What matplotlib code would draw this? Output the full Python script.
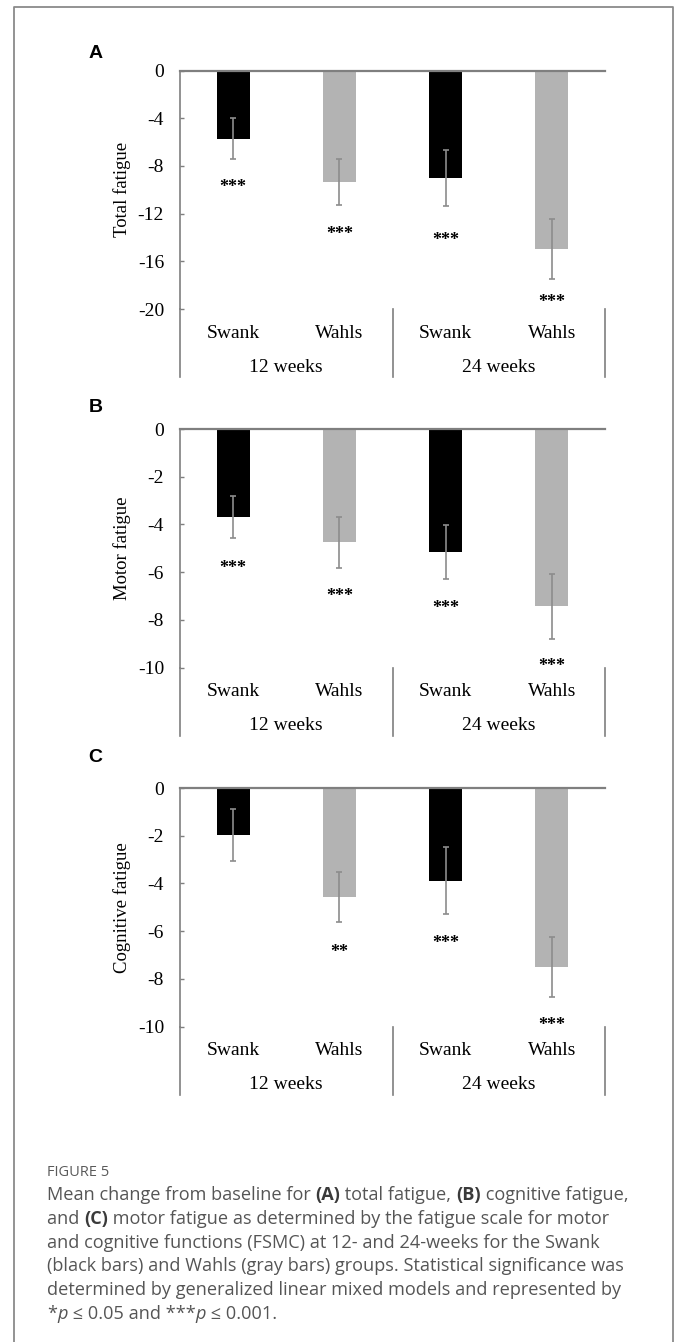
import matplotlib
matplotlib.use("Agg")
import matplotlib.pyplot as plt
import matplotlib.transforms as mtransforms
from matplotlib.lines import Line2D

plt.rcParams["axes.unicode_minus"] = False

W, H, DPI = 681, 1342, 100

# ---------------- data ----------------
categories = ["Swank", "Wahls", "Swank", "Wahls"]
groups = ["12 weeks", "24 weeks"]
panel_letters = ["A", "B", "C"]
ylabels = ["Total fatigue", "Motor fatigue", "Cognitive fatigue"]
bar_colors = ["#000000", "#b3b3b3", "#000000", "#b3b3b3"]

total_mean = [-5.72, -9.37, -9.03, -14.96]
total_err = [1.70, 1.93, 2.34, 2.51]
total_sig = ["***", "***", "***", "***"]
total_sig_y = [-9.45, -13.4, -13.9, -19.1]
total_ticks = [0, -4, -8, -12, -16, -20]

motor_mean = [-3.68, -4.75, -5.16, -7.44]
motor_err = [0.89, 1.08, 1.12, 1.35]
motor_sig = ["***", "***", "***", "***"]
motor_sig_y = [-5.69, -6.85, -7.36, -9.80]
motor_ticks = [0, -2, -4, -6, -8, -10]

cog_mean = [-1.98, -4.58, -3.88, -7.50]
cog_err = [1.08, 1.04, 1.39, 1.27]
cog_sig = ["", "**", "***", "***"]
cog_sig_y = [0, -6.75, -6.38, -9.79]
cog_ticks = [0, -2, -4, -6, -8, -10]

panels = [
    (total_mean, total_err, total_sig, total_sig_y, total_ticks),
    (motor_mean, motor_err, motor_sig, motor_sig_y, motor_ticks),
    (cog_mean, cog_err, cog_sig, cog_sig_y, cog_ticks),
]

caption_title = "FIGURE 5"
caption_lines = [
    [("Mean change from baseline for ", "n"), ("(A)", "b"), (" total fatigue, ", "n"),
     ("(B)", "b"), (" cognitive fatigue,", "n")],
    [("and ", "n"), ("(C)", "b"), (" motor fatigue as determined by the fatigue scale for motor", "n")],
    [("and cognitive functions (FSMC) at 12- and 24-weeks for the Swank", "n")],
    [("(black bars) and Wahls (gray bars) groups. Statistical significance was", "n")],
    [("determined by generalized linear mixed models and represented by", "n")],
    [("*", "n"), ("p", "i"), (" \u2264 0.05 and ***", "n"), ("p", "i"), (" \u2264 0.001.", "n")],
]

# ---------------- layout ----------------
SERIF = ["Liberation Serif", "DejaVu Serif"]
SANS = ["Open Sans", "DejaVu Sans"]
AX_L, AX_R = 180, 605
tops = [70.5, 429, 788]
AX_H = 238.5
letter_y = [54, 407, 757]
GRAY = "#7f7f7f"

fig = plt.figure(figsize=(W / DPI, H / DPI), dpi=DPI)

for p, (mean, err, sig, sig_y, ticks) in enumerate(panels):
    top = tops[p]
    ax = fig.add_axes([AX_L / W, 1 - (top + AX_H) / H, (AX_R - AX_L) / W, AX_H / H])
    x = list(range(len(categories)))
    ax.bar(x, mean, width=0.31, color=bar_colors, zorder=2)
    ax.errorbar(x, mean, yerr=err, fmt="none", ecolor="#8c8c8c", elinewidth=1.2,
                capsize=2.5, capthick=1.2, zorder=3)
    ax.set_xlim(-0.5, 3.5)
    ax.set_ylim(min(ticks), 0)
    for s in ["right", "bottom"]:
        ax.spines[s].set_visible(False)
    ax.spines["top"].set_color(GRAY)
    ax.spines["top"].set_linewidth(1.6)
    ax.spines["left"].set_color(GRAY)
    ax.spines["left"].set_linewidth(1.2)
    ax.set_xticks([])
    ax.set_yticks(ticks)
    ax.set_yticklabels([str(t) for t in ticks], family=SERIF, fontsize=14)
    ax.tick_params(axis="y", direction="in", length=3, width=1, color=GRAY, pad=11.5)

    ext = 68 / AX_H
    trans = mtransforms.blended_transform_factory(ax.transData, ax.transAxes)
    for sx in [-0.5, 1.5, 3.5]:
        ax.add_line(Line2D([sx, sx], [0, -ext], transform=trans, color=GRAY, lw=1.2,
                           clip_on=False))
    for i, c in enumerate(categories):
        ax.text(i, -24 / AX_H, c, transform=trans, ha="center", va="center",
                family=SERIF, fontsize=14)
    for g, gl in enumerate(groups):
        ax.text(2 * g + 0.5, -58 / AX_H, gl, transform=trans, ha="center", va="center",
                family=SERIF, fontsize=14)
    for i, s in enumerate(sig):
        if s:
            ax.annotate(s, (i, sig_y[i]), xytext=(0, -6), textcoords="offset points",
                        ha="center", va="baseline", family=SERIF, fontsize=13,
                        fontweight="bold")
    ax.text(-(AX_L - 122) / (AX_R - AX_L), 0.5, ylabels[p], transform=ax.transAxes,
            rotation=90, ha="center", va="center", family=SERIF, fontsize=13.5)
    fig.text(95.7 / W, 1 - letter_y[p] / H, panel_letters[p], ha="center", va="center",
             family=["Liberation Sans", "DejaVu Sans"], fontsize=14, fontweight="bold")

# frame
fig.add_artist(Line2D([14 / W, 14 / W, 673 / W, 673 / W], [0, 1 - 7 / H, 1 - 7 / H, 0],
                      transform=fig.transFigure, color="#8a8a8a", lw=1.3))

# ---------------- caption ----------------
renderer = fig.canvas.get_renderer()
CAP_COLOR = "#555555"


def seg_kw(style, size):
    kw = dict(fontsize=size, color=CAP_COLOR, family=SANS)
    if style == "b":
        kw["fontweight"] = "bold"
        kw["color"] = "#3a3a3a"
    if style == "i":
        kw["fontstyle"] = "italic"
    return kw


def draw_line(segs, x_px, base_px, size):
    x = x_px
    for txt, style in segs:
        t = fig.text(x / W, 1 - base_px / H, txt, ha="left", va="baseline",
                     **seg_kw(style, size))
        x += t.get_window_extent(renderer).width
    return x


# fit caption size so first line spans ~584 px
probe = 10.0
tmp = []
wsum = 0
for txt, style in caption_lines[0]:
    t = fig.text(0, 0, txt, **seg_kw(style, probe))
    wsum += t.get_window_extent(renderer).width
    tmp.append(t)
for t in tmp:
    t.remove()
cap_size = probe * 584 / wsum

fig.text(47 / W, 1 - 1176 / H, caption_title, ha="left", va="baseline",
         family=SANS, fontsize=10.5, color="#5a5a5a")
for k, segs in enumerate(caption_lines):
    draw_line(segs, 47, 1200 + 23.8 * k, cap_size)

fig.savefig("out.png", dpi=DPI)
